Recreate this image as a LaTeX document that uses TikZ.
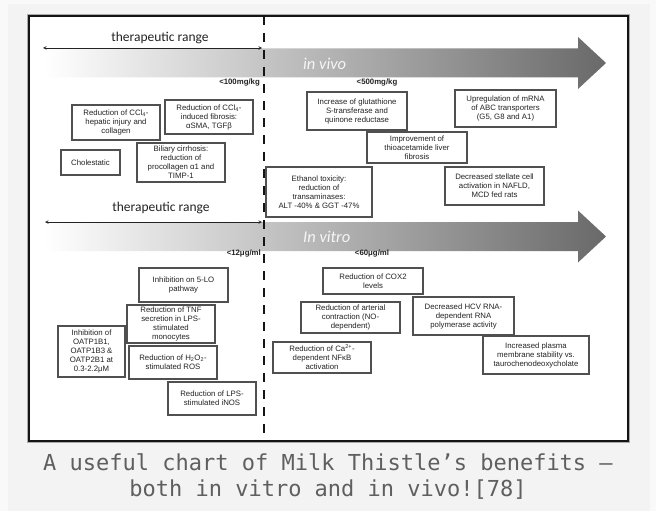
\documentclass[tikz,border=0pt]{standalone}
\usepackage{fontspec}
\setmainfont{Liberation Sans}
\newfontfamily\calfont{Carlito}
\newfontfamily\capfont{DejaVu Sans Mono}
\usepackage{tikz}
\usetikzlibrary{arrows,shapes,positioning,calc}
\usepackage{xcolor}
\definecolor{mtpage}{RGB}{249,249,249}
\definecolor{mtpanel}{RGB}{243,243,243}
\definecolor{mtframe}{RGB}{20,20,20}
\definecolor{mtshadow}{RGB}{170,170,170}
\definecolor{mtedge}{RGB}{80,80,80}
\definecolor{mtband}{RGB}{105,105,105}
\definecolor{mttext}{RGB}{35,35,35}
\definecolor{mtcaption}{RGB}{95,95,95}
\tikzstyle{rangearrow} = [semithick,<->,>=stealth,color=mttext]
\tikzstyle{effectbox} = [rectangle, draw=mtedge, fill=white, line width=1.2pt, inner sep=1pt, align=center, text=mttext, font=\fontsize{7.8}{9}\selectfont]
\tikzstyle{rangelabel} = [font=\calfont\fontsize{13.5}{16}\selectfont, text=mttext]
\tikzstyle{doselabel} = [font=\bfseries\fontsize{7.8}{10}\selectfont, text=mttext, inner sep=0pt]
\tikzstyle{bandlabel} = [font=\calfont\itshape\fontsize{16.5}{20}\selectfont, text=white!93!gray, anchor=west, inner sep=0pt]

\begin{document}
\begin{tikzpicture}[x=1pt,y=-1pt]
\useasboundingbox (0,0) rectangle (656,511);
% Page and frame
\fill[mtpage] (0,0) rectangle (656,511);
\fill[mtpanel] (8,4) rectangle (650,511);
\draw[line width=4pt, mtshadow] (29,16) rectangle (628,441);
\draw[line width=1.8pt, mtframe, fill=white] (29,16) rectangle (628,441);

% Bands
\shade[left color=white, right color=mtband] (45,48.5) -- (578,48.5) -- (578,37) -- (606,63) -- (578,89) -- (578,77.5) -- (45,77.5) -- cycle;
\shade[left color=white, right color=mtband] (45,222) -- (578,222) -- (578,210.5) -- (606,236.5) -- (578,262.5) -- (578,251) -- (45,251) -- cycle;
\node[bandlabel] (vivo) at (303,64) {in vivo};
\node[bandlabel] (vitro) at (303,237) {In vitro};

% Therapeutic ranges
\coordinate (vivoL) at (43,48);
\coordinate (vivoR) at (262,48);
\coordinate (vitroL) at (45,222);
\coordinate (vitroR) at (262,222);
\node[rangelabel] (rangeA) at (160,38) {therapeutic range};
\node[rangelabel] (rangeB) at (161,208) {therapeutic range};
\draw[rangearrow] (vivoL) -- (vivoR);
\draw[rangearrow] (vitroL) -- (vitroR);

% Cut-off line
\coordinate (cutT) at (264,16);
\coordinate (cutB) at (264,441);
\draw[line width=2.6pt, mtframe, dash pattern=on 9pt off 8pt] (cutT) -- (cutB);

% Doses
\node[doselabel, anchor=east] (d100) at (260,83) {<100mg/kg};
\node[doselabel] (d500) at (377,83) {<500mg/kg};
\node[doselabel, anchor=east] (d12) at (261,253) {<12μg/ml};
\node[doselabel] (d60) at (372,253) {<60μg/ml};

% In vivo, therapeutic range
\node[effectbox, minimum width=88pt, minimum height=35pt] (ccl) at (116,122.5) {Reduction of CCl\textsubscript{4}-\\hepatic injury and\\collagen};
\node[effectbox, minimum width=88pt, minimum height=34pt] (fib) at (209,117) {Reduction of CCl\textsubscript{4}-\\induced fibrosis:\\αSMA, TGFβ};
\node[effectbox, minimum width=59pt, minimum height=25pt] (chol) at (90.5,162.5) {Cholestatic};
\node[effectbox, minimum width=88pt, minimum height=39pt] (bil) at (181,162.5) {Biliary cirrhosis:\\reduction of\\procollagen α1 and\\TIMP-1};

% In vivo, high dose
\node[effectbox, minimum width=100pt, minimum height=38pt] (gst) at (357,111) {Increase of glutathione\\S-transferase and\\quinone reductase};
\node[effectbox, minimum width=101pt, minimum height=37pt] (abc) at (505.5,108.5) {Upregulation of mRNA\\of ABC transporters\\(G5, G8 and A1)};
\node[effectbox, minimum width=100pt, minimum height=31pt] (tha) at (417,147.5) {Improvement of\\thioacetamide liver\\fibrosis};
\node[effectbox, minimum width=106pt, minimum height=50pt] (eth) at (319,192) {Ethanol toxicity:\\reduction of\\transaminases:\\ALT -40\% \& GGT -47\%};
\node[effectbox, minimum width=99pt, minimum height=38pt] (nafld) at (494.5,186) {Decreased stellate cell\\activation in NAFLD,\\MCD fed rats};

% In vitro, therapeutic range
\node[effectbox, minimum width=89pt, minimum height=34pt] (lox) at (183.5,285) {Inhibition on 5-LO\\pathway};
\node[effectbox, minimum width=88pt, minimum height=38pt] (tnf) at (171,324) {Reduction of TNF\\secretion in LPS-\\stimulated\\monocytes};
\node[effectbox, minimum width=67pt, minimum height=51pt] (oatp) at (91.5,351.5) {Inhibition of\\OATP1B1,\\OATP1B3 \&\\OATP2B1 at\\0.3-2.2μM};
\node[effectbox, minimum width=88pt, minimum height=33pt] (ros) at (173,362.5) {Reduction of H\textsubscript{2}O\textsubscript{2}-\\stimulated ROS};
\node[effectbox, minimum width=88pt, minimum height=33pt] (inos) at (212,398.5) {Reduction of LPS-\\stimulated iNOS};

% In vitro, high dose
\node[effectbox, minimum width=100pt, minimum height=26pt] (cox) at (373,281) {Reduction of COX2\\levels};
\node[effectbox, minimum width=99pt, minimum height=31pt] (art) at (350.5,317.5) {Reduction of arterial\\contraction (NO-\\dependent)};
\node[effectbox, minimum width=101pt, minimum height=38pt] (hcv) at (463.5,316) {Decreased HCV RNA-\\dependent RNA\\polymerase activity};
\node[effectbox, minimum width=98pt, minimum height=31pt] (nfkb) at (322,357.5) {Reduction of Ca\textsuperscript{2+}-\\dependent NFκB\\activation};
\node[effectbox, minimum width=106pt, minimum height=38pt] (memb) at (536,355) {Increased plasma\\membrane stability vs.\\taurochenodeoxycholate};

% Caption
\node[align=center, text=mtcaption, font=\capfont\fontsize{22}{26}\selectfont] (caption) at (328,477) {A useful chart of Milk Thistle’s benefits –\\both in vitro and in vivo![78]};
\end{tikzpicture}
\end{document}
